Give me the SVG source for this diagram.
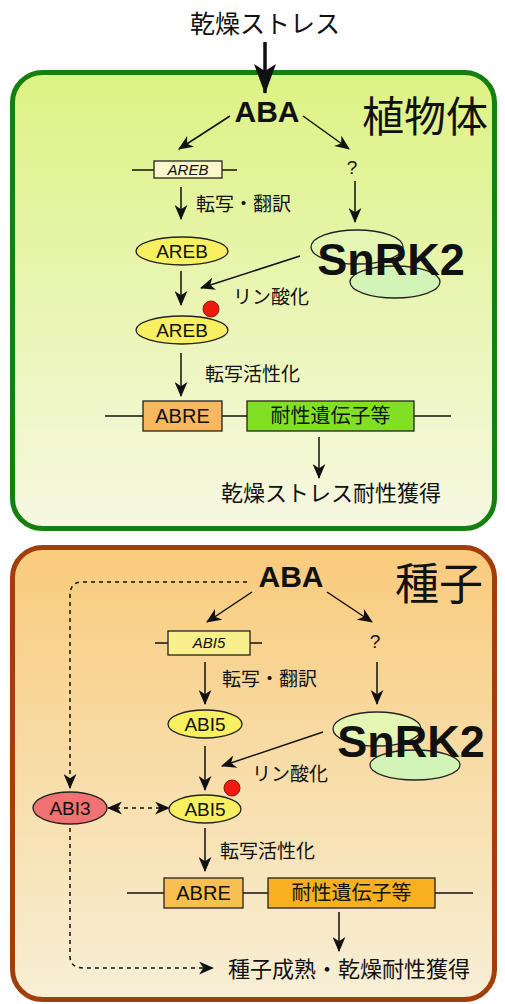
<svg xmlns="http://www.w3.org/2000/svg" width="505" height="1004" viewBox="0 0 505 1004">
<style>
.jp{font-family:"Noto Sans CJK JP","Noto Sans CJK SC",sans-serif;fill:#111}
.lat{font-family:"Liberation Sans",Arial,sans-serif;fill:#111}
.b{font-weight:bold}
.ln{stroke:#111;stroke-width:1.5;fill:none}
.dash{stroke:#111;stroke-width:1.5;fill:none;stroke-dasharray:4,4}
.ol{stroke:#222;stroke-width:1.3}
</style>
<defs>
<linearGradient id="gTop" x1="0" y1="0" x2="0" y2="1">
<stop offset="0" stop-color="#ddf284"/>
<stop offset="1" stop-color="#f6f8e2"/>
</linearGradient>
<linearGradient id="gBot" x1="0" y1="0" x2="0" y2="1">
<stop offset="0" stop-color="#f9cb7c"/>
<stop offset="1" stop-color="#f7efd6"/>
</linearGradient>
<marker id="ah" viewBox="0 0 14 12" refX="13" refY="6" markerWidth="15" markerHeight="13" markerUnits="userSpaceOnUse" orient="auto-start-reverse">
<path d="M0,0 L14,6 L0,12 L4,6 z" fill="#111"/>
</marker>
<marker id="ahBig" viewBox="0 0 30 22" refX="29" refY="11" markerWidth="30" markerHeight="22" markerUnits="userSpaceOnUse" orient="auto">
<path d="M0,0 L30,11 L0,22 L7,11 z" fill="#111"/>
</marker>
</defs>

<!-- panels -->
<g id="panel-plant">
<rect x="12.5" y="72.5" width="482" height="456" rx="30" fill="url(#gTop)" stroke="#158010" stroke-width="5"/>
<text class="jp" x="425" y="132" font-size="42" text-anchor="middle">植物体</text>
</g>
<g id="panel-seed">
<rect x="12.5" y="547.5" width="482" height="452" rx="30" fill="url(#gBot)" stroke="#a23e0c" stroke-width="5"/>
<text class="jp" x="439" y="600" font-size="44" text-anchor="middle">種子</text>
</g>

<!-- connectors -->
<g id="connectors">
<line x1="265" y1="42" x2="265" y2="93" stroke="#111" stroke-width="3.5" marker-end="url(#ahBig)"/>
<!-- top panel -->
<line class="ln" x1="230" y1="116" x2="179" y2="149" marker-end="url(#ah)"/>
<line class="ln" x1="303" y1="116" x2="349" y2="149" marker-end="url(#ah)"/>
<line class="ln" x1="132" y1="170" x2="154" y2="170"/>
<line class="ln" x1="222" y1="170" x2="237" y2="170"/>
<line class="ln" x1="181" y1="187" x2="181" y2="219" marker-end="url(#ah)"/>
<line class="ln" x1="355" y1="181" x2="355" y2="222" marker-end="url(#ah)"/>
<line class="ln" x1="300" y1="256" x2="201" y2="288" marker-end="url(#ah)"/>
<line class="ln" x1="181" y1="271" x2="181" y2="305" marker-end="url(#ah)"/>
<line class="ln" x1="181" y1="353" x2="181" y2="396" marker-end="url(#ah)"/>
<line class="ln" x1="105" y1="416" x2="143" y2="416"/>
<line class="ln" x1="222" y1="416" x2="247" y2="416"/>
<line class="ln" x1="414" y1="416" x2="451" y2="416"/>
<line class="ln" x1="319" y1="437" x2="319" y2="478" marker-end="url(#ah)"/>
<!-- bottom panel -->
<line class="ln" x1="252" y1="592" x2="207" y2="622" marker-end="url(#ah)"/>
<line class="ln" x1="327" y1="592" x2="372" y2="622" marker-end="url(#ah)"/>
<line class="ln" x1="155" y1="643" x2="168" y2="643"/>
<line class="ln" x1="250" y1="643" x2="262" y2="643"/>
<line class="ln" x1="205" y1="662" x2="205" y2="704" marker-end="url(#ah)"/>
<line class="ln" x1="377" y1="662" x2="377" y2="704" marker-end="url(#ah)"/>
<line class="ln" x1="323" y1="732" x2="222" y2="766" marker-end="url(#ah)"/>
<line class="ln" x1="205" y1="746" x2="205" y2="790" marker-end="url(#ah)"/>
<line class="ln" x1="205" y1="828" x2="205" y2="871" marker-end="url(#ah)"/>
<line class="ln" x1="127" y1="893" x2="164" y2="893"/>
<line class="ln" x1="243" y1="893" x2="268" y2="893"/>
<line class="ln" x1="435" y1="893" x2="473" y2="893"/>
<line class="ln" x1="339" y1="912" x2="339" y2="951" marker-end="url(#ah)"/>
<path class="dash" d="M247,582 H82 Q70,582 70,596 V788" marker-end="url(#ah)"/>
<line class="dash" x1="108" y1="808" x2="169" y2="808" marker-start="url(#ah)" marker-end="url(#ah)"/>
<path class="dash" d="M70,828 V956 Q70,968 84,968 H213" marker-end="url(#ah)"/>
</g>

<!-- title -->
<g id="node-stress">
<text class="jp" x="265" y="33" font-size="25" text-anchor="middle">乾燥ストレス</text>
</g>

<!-- top panel nodes -->
<g id="node-aba-top">
<text class="lat b" x="267" y="122" font-size="30" text-anchor="middle">ABA</text>
</g>
<g id="node-areb-gene">
<rect x="154" y="161" width="68" height="17" fill="#fbf6cc" class="ol"/>
<text class="lat" x="188" y="175" font-size="15" font-style="italic" text-anchor="middle">AREB</text>
</g>
<g id="node-q-top">
<text class="lat" x="352" y="174" font-size="19" text-anchor="middle">?</text>
</g>
<g id="label-tt-top">
<text class="jp" x="196" y="211" font-size="19">転写・翻訳</text>
</g>
<g id="node-areb">
<ellipse cx="182" cy="251" rx="46" ry="14" fill="#f8f060" class="ol"/>
<text class="lat" x="182" y="258" font-size="19" text-anchor="middle">AREB</text>
</g>
<g id="node-snrk2-top">
<ellipse cx="357" cy="247" rx="46" ry="17" fill="#e4f6b4" class="ol"/>
<ellipse cx="395" cy="282" rx="45" ry="16" fill="#d2f4b6" class="ol"/>
<text class="lat b" x="391" y="275" font-size="45" text-anchor="middle">SnRK2</text>
</g>
<g id="label-phos-top">
<text class="jp" x="233" y="304" font-size="19">リン酸化</text>
</g>
<g id="node-areb-p">
<ellipse cx="182" cy="330" rx="46" ry="14" fill="#f8f060" class="ol"/>
<text class="lat" x="182" y="337" font-size="19" text-anchor="middle">AREB</text>
<circle cx="211" cy="309" r="8" fill="#ee1a10" stroke="#8a1a10" stroke-width="1"/>
</g>
<g id="label-act-top">
<text class="jp" x="205" y="381" font-size="19">転写活性化</text>
</g>
<g id="node-abre-top">
<rect x="143" y="401" width="79" height="30" fill="#f8b860" class="ol"/>
<text class="lat" x="182.5" y="423" font-size="20" text-anchor="middle">ABRE</text>
</g>
<g id="node-genes-top">
<rect x="247" y="401" width="167" height="30" fill="#82e024" class="ol"/>
<text class="jp" x="330.5" y="423" font-size="20" text-anchor="middle">耐性遺伝子等</text>
</g>
<g id="node-result-top">
<text class="jp" x="331" y="501" font-size="22" text-anchor="middle">乾燥ストレス耐性獲得</text>
</g>

<!-- bottom panel nodes -->
<g id="node-aba-bot">
<text class="lat b" x="291" y="587" font-size="30" text-anchor="middle">ABA</text>
</g>
<g id="node-abi5-gene">
<rect x="168" y="631" width="82" height="24" fill="#f8f08c" class="ol"/>
<text class="lat" x="209" y="648" font-size="15" font-style="italic" text-anchor="middle">ABI5</text>
</g>
<g id="node-q-bot">
<text class="lat" x="375" y="648" font-size="19" text-anchor="middle">?</text>
</g>
<g id="label-tt-bot">
<text class="jp" x="222" y="686" font-size="19">転写・翻訳</text>
</g>
<g id="node-abi5">
<ellipse cx="205" cy="724" rx="37" ry="14" fill="#f8f060" class="ol"/>
<text class="lat" x="205" y="731" font-size="19" text-anchor="middle">ABI5</text>
</g>
<g id="node-snrk2-bot">
<ellipse cx="377" cy="729" rx="44" ry="17" fill="#e4f6b4" class="ol"/>
<ellipse cx="415" cy="765" rx="45" ry="15" fill="#d2f4b6" class="ol"/>
<text class="lat b" x="411" y="757" font-size="45" text-anchor="middle">SnRK2</text>
</g>
<g id="label-phos-bot">
<text class="jp" x="252" y="781" font-size="19">リン酸化</text>
</g>
<g id="node-abi3">
<ellipse cx="70" cy="808" rx="37" ry="16" fill="#f07272" class="ol"/>
<text class="lat" x="70" y="815" font-size="19" text-anchor="middle">ABI3</text>
</g>
<g id="node-abi5-p">
<ellipse cx="205" cy="809" rx="36" ry="14" fill="#f8f060" class="ol"/>
<text class="lat" x="205" y="816" font-size="19" text-anchor="middle">ABI5</text>
<circle cx="232" cy="788" r="8" fill="#ee1a10" stroke="#8a1a10" stroke-width="1"/>
</g>
<g id="label-act-bot">
<text class="jp" x="220" y="858" font-size="19">転写活性化</text>
</g>
<g id="node-abre-bot">
<rect x="164" y="878" width="79" height="30" fill="#f8c050" class="ol"/>
<text class="lat" x="203.5" y="900" font-size="20" text-anchor="middle">ABRE</text>
</g>
<g id="node-genes-bot">
<rect x="268" y="878" width="167" height="30" fill="#f8b020" class="ol"/>
<text class="jp" x="351.5" y="900" font-size="20" text-anchor="middle">耐性遺伝子等</text>
</g>
<g id="node-result-bot">
<text class="jp" x="349" y="977" font-size="22" text-anchor="middle">種子成熟・乾燥耐性獲得</text>
</g>
</svg>
